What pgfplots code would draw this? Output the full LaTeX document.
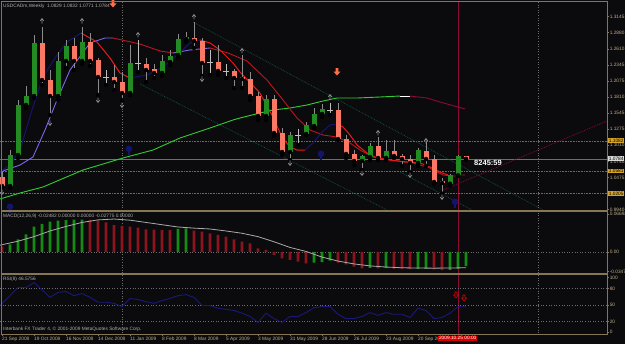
\documentclass[border=0pt]{standalone}
\usepackage{pgfplots}
\pgfplotsset{compat=1.18}
\usepackage{pgfplotstable}
\usepackage{fontspec}
\setmainfont{Liberation Sans}
\definecolor{bg}{RGB}{11,11,13}
\definecolor{frm}{RGB}{135,118,85}
\definecolor{lbl}{RGB}{190,175,140}
\definecolor{wick}{RGB}{140,140,140}
\definecolor{bull}{RGB}{34,139,34}
\definecolor{bear}{RGB}{250,120,100}
\definecolor{dojic}{RGB}{190,190,190}
\definecolor{navyl}{RGB}{20,20,110}
\definecolor{redl}{RGB}{235,25,25}
\definecolor{lav}{RGB}{123,104,238}
\definecolor{dred}{RGB}{190,20,30}
\definecolor{limel}{RGB}{50,205,50}
\definecolor{tealc}{RGB}{20,85,75}
\definecolor{orng}{RGB}{150,95,35}
\definecolor{curr}{RGB}{110,110,110}
\definecolor{maroonl}{RGB}{140,10,50}
\definecolor{arrowc}{RGB}{255,110,70}
\definecolor{mgreen}{RGB}{20,140,20}
\definecolor{mred}{RGB}{140,20,30}
\definecolor{sig}{RGB}{170,170,170}
\definecolor{rsic}{RGB}{25,25,125}
\definecolor{gold}{RGB}{215,165,40}
\definecolor{txt}{RGB}{175,175,175}
\newcommand\tf{\fontsize{4.8}{5.2}\selectfont}

\pgfdeclareplotmark{fracup}{%
 \pgfpathmoveto{\pgfqpoint{-2pt}{0pt}}\pgfpathlineto{\pgfqpoint{0pt}{2.5pt}}\pgfpathlineto{\pgfqpoint{2pt}{0pt}}%
 \pgfpathmoveto{\pgfqpoint{0pt}{2.5pt}}\pgfpathlineto{\pgfqpoint{0pt}{-2.5pt}}\pgfusepathqstroke}
\pgfdeclareplotmark{fracdn}{%
 \pgfpathmoveto{\pgfqpoint{-2pt}{0pt}}\pgfpathlineto{\pgfqpoint{0pt}{-2.5pt}}\pgfpathlineto{\pgfqpoint{2pt}{0pt}}%
 \pgfpathmoveto{\pgfqpoint{0pt}{-2.5pt}}\pgfpathlineto{\pgfqpoint{0pt}{2.5pt}}\pgfusepathqstroke}
\pgfdeclareplotmark{blockdn}{%
 \pgfpathmoveto{\pgfqpoint{-1.3pt}{3.8pt}}\pgfpathlineto{\pgfqpoint{1.3pt}{3.8pt}}\pgfpathlineto{\pgfqpoint{1.3pt}{0.5pt}}%
 \pgfpathlineto{\pgfqpoint{3.5pt}{0.5pt}}\pgfpathlineto{\pgfqpoint{0pt}{-3.5pt}}\pgfpathlineto{\pgfqpoint{-3.5pt}{0.5pt}}%
 \pgfpathlineto{\pgfqpoint{-1.3pt}{0.5pt}}\pgfpathclose\pgfusepathqfill}
\pgfdeclareplotmark{odown}{%
 \pgfpathmoveto{\pgfqpoint{-1pt}{3pt}}\pgfpathlineto{\pgfqpoint{1pt}{3pt}}\pgfpathlineto{\pgfqpoint{1pt}{0pt}}%
 \pgfpathlineto{\pgfqpoint{2.5pt}{0pt}}\pgfpathlineto{\pgfqpoint{0pt}{-3pt}}\pgfpathlineto{\pgfqpoint{-2.5pt}{0pt}}%
 \pgfpathlineto{\pgfqpoint{-1pt}{0pt}}\pgfpathclose\pgfusepathqstroke}
\pgfdeclareplotmark{blob}{%
 \pgfpathcircle{\pgfqpoint{0pt}{1.2pt}}{3.3pt}\pgfusepathqfill
 \pgfpathrectangle{\pgfqpoint{-0.8pt}{-4.5pt}}{\pgfqpoint{1.6pt}{4.5pt}}\pgfusepathqfill}

\pgfplotstableread{
x o h l c
1 1.0333 1.0930 1.0299 1.0847
2 1.0847 1.1761 1.0798 1.1678
3 1.1678 1.1994 1.1628 1.1827
4 1.1827 1.2841 1.1794 1.2708
7 1.1827 1.2558 1.1761 1.2409
8 1.2409 1.2758 1.2293 1.2658
10 1.2409 1.2974 1.2359 1.2724
16 1.1877 1.2675 1.1844 1.2376
20 1.2209 1.2508 1.2160 1.2409
21 1.2392 1.2592 1.2342 1.2492
22 1.2508 1.2857 1.2459 1.2774
23 1.2774 1.2890 1.2724 1.2807
33 1.1495 1.1844 1.1429 1.1778
36 1.0897 1.1229 1.0764 1.1180
38 1.1196 1.1396 1.1180 1.1346
39 1.1329 1.1628 1.1296 1.1528
40 1.1528 1.1695 1.1479 1.1612
45 1.0748 1.0847 1.0598 1.0831
46 1.0814 1.1047 1.0764 1.0997
48 1.0798 1.1097 1.0764 1.0914
52 1.0715 1.0964 1.0665 1.0930
56 1.0370 1.0532 1.0333 1.0510
57 1.0510 1.0847 1.0499 1.0831
}\bull
\pgfplotstableread{
x o h l c
0 1.0482 1.0565 1.0299 1.0333
5 1.2708 1.2974 1.2010 1.2093
6 1.2093 1.2259 1.1512 1.1827
9 1.2658 1.2791 1.2259 1.2409
11 1.2724 1.2874 1.2326 1.2409
12 1.2425 1.2459 1.1844 1.2143
14 1.2143 1.2342 1.1927 1.2060
15 1.2060 1.2226 1.1761 1.1877
18 1.2359 1.2459 1.2060 1.2259
19 1.2276 1.2359 1.2126 1.2209
24 1.2791 1.3057 1.2625 1.2741
25 1.2741 1.2791 1.2160 1.2376
27 1.2392 1.2675 1.2176 1.2243
29 1.2243 1.2276 1.1960 1.2126
30 1.2143 1.2508 1.1960 1.2110
31 1.2110 1.2226 1.1761 1.1827
32 1.1827 1.1894 1.1429 1.1495
34 1.1778 1.1844 1.1163 1.1213
35 1.1213 1.1296 1.0847 1.0897
42 1.1595 1.1711 1.1097 1.1113
43 1.1113 1.1180 1.0798 1.0864
44 1.0864 1.0930 1.0681 1.0748
47 1.0997 1.1146 1.0764 1.0798
49 1.0914 1.1097 1.0798 1.0831
50 1.0831 1.0864 1.0665 1.0781
51 1.0781 1.0847 1.0565 1.0715
53 1.0914 1.1060 1.0665 1.0781
54 1.0781 1.0847 1.0366 1.0399
55 1.0415 1.0465 1.0205 1.0382
58 1.0829 1.0832 1.0771 1.0784
}\bear
\pgfplotstableread{
x o h l c
13 1.2143 1.2259 1.2010 1.2135
17 1.2376 1.2758 1.2226 1.2367
26 1.2392 1.2592 1.2176 1.2384
28 1.2243 1.2359 1.2126 1.2234
37 1.1180 1.1279 1.1014 1.1172
41 1.1595 1.1711 1.1512 1.1587
}\doji

\pgfplotsset{
 mtaxis/.style={scale only axis, width=607pt, xmin=-0.25, xmax=75.625,
  axis line style={draw=none}, tick style={draw=frm, line width=0.5pt}, tick align=outside,
  major tick length=2pt, ytick pos=right, yticklabel pos=right, xtick=\empty,
  scaled y ticks=false, scaled x ticks=false,
  yticklabel style={font=\tf, text=lbl, anchor=west, inner sep=0.6pt},
  clip=true},
 wickst/.style={only marks, mark=none, error bars/.cd, y dir=plus, y explicit, error mark=none,
  error bar style={line width=0.8pt, draw=#1}},
 bodyst/.style={only marks, mark=none, error bars/.cd, y dir=plus, y explicit, error mark=none,
  error bar style={line width=5pt, draw=#1}},
}

\begin{document}
\begin{tikzpicture}
\fill[bg] (0pt,0pt) rectangle (625pt,-344pt);
\useasboundingbox (0pt,0pt) rectangle (625pt,-344pt);
% period separators and vertical line
\draw[curr, dotted, line width=0.6pt] (122pt,-2pt) -- (122pt,-334pt);
\draw[curr, dotted, line width=0.6pt] (538pt,-2pt) -- (538pt,-334pt);
\draw[maroonl, line width=0.8pt] (458pt,-2pt) -- (458pt,-334pt);

% ================= MAIN PRICE PANEL =================
\begin{axis}[mtaxis, at={(0pt,-2pt)}, anchor=north west, height=208pt,
  ymin=0.9934, ymax=1.3389,
  ytick={1.3145,1.2880,1.2610,1.2345,1.2075,1.1810,1.1545,1.1275,1.1010,1.0740,1.0475,1.0205,0.9940},
  yticklabels={1.3145,1.2880,1.2610,1.2345,1.2075,1.1810,1.1545,1.1275,1.1010,1.0740,1.0475,1.0205,0.9940}]
% horizontal levels
\addplot[orng, densely dotted, line width=0.6pt] coordinates {(-0.25,1.1082) (75.625,1.1082)};
\addplot[orng, densely dotted, line width=0.6pt] coordinates {(-0.25,1.0581) (75.625,1.0581)};
\addplot[orng, densely dotted, line width=0.6pt] coordinates {(-0.25,1.0205) (75.625,1.0205)};
\addplot[curr, line width=0.6pt] coordinates {(-0.25,1.0784) (75.625,1.0784)};
% channel lines
\addplot[tealc, densely dotted, line width=0.7pt] coordinates {(23.875,1.3057) (67.625,0.9934)};
\addplot[tealc, densely dotted, line width=0.7pt] coordinates {(17.25,1.2027) (48.125,0.9934)};
\addplot[tealc, densely dotted, line width=0.7pt] coordinates {(49.75,1.0565) (58.75,0.9934)};
% trend line
\addplot[maroonl, densely dotted, line width=0.8pt] coordinates {(55.125,1.0266) (75.625,1.1412)};
% slow green MA
\addplot[limel, line width=0.9pt] coordinates {(-0.25,1.0117) (2.25,1.0216) (5.125,1.0316) (10.125,1.0598) (15.125,1.0798) (18.875,1.0930) (22.25,1.1130) (26,1.1296) (28.875,1.1429) (29.75,1.1462) (32.25,1.1545) (33.875,1.1595) (36,1.1628) (38.125,1.1678) (40.125,1.1744) (41.875,1.1794) (44.375,1.1794) (47.25,1.1811) (49.75,1.1827)};
\addplot[white, line width=0.9pt] coordinates {(49.75,1.1827) (51,1.1827)};
\addplot[maroonl, line width=0.9pt] coordinates {(51,1.1827) (53.125,1.1794) (54.75,1.1728) (57.875,1.1612)};
% second MA
\addplot[lav, line width=0.9pt] coordinates {(-0.25,1.0565) (2.25,1.0681) (3.875,1.0814) (5.375,1.1263) (6.875,1.1761) (8.5,1.2259) (11,1.2708) (12.875,1.2791) (13.875,1.2791)};
\addplot[dred, line width=0.9pt] coordinates {(13.875,1.2791) (17.25,1.2691) (19.75,1.2575) (21.375,1.2542)};
\addplot[lav, line width=0.9pt] coordinates {(21.375,1.2542) (23.5,1.2592) (26,1.2625)};
\addplot[dred, line width=0.9pt] coordinates {(26,1.2625) (28.25,1.2542) (30.625,1.2409) (33.125,1.2093) (35.125,1.1761) (36.875,1.1462) (38.5,1.1263) (40.125,1.1180) (41.875,1.1146) (43.5,1.1047) (44.75,1.0930) (46.375,1.0814) (48.5,1.0764) (51.375,1.0715) (53.5,1.0631) (55.125,1.0515) (56.375,1.0499) (57.875,1.0515)};
% fast MA
\addplot[navyl, line width=1pt] coordinates {(-0.25,1.0565) (1,1.0681) (2.25,1.0930) (3.75,1.1595) (5.125,1.2143) (6.875,1.2508) (8.125,1.2724) (9.875,1.2874)};
\addplot[redl, line width=1pt] coordinates {(9.875,1.2874) (11.875,1.2724) (13.5,1.2459) (14.75,1.2209) (16,1.2126)};
\addplot[navyl, line width=1pt] coordinates {(16,1.2126) (18.125,1.2176) (20.125,1.2309) (21.875,1.2508) (23.5,1.2708) (24.75,1.2758)};
\addplot[redl, line width=1pt] coordinates {(24.75,1.2758) (26,1.2708) (27.25,1.2592) (28.875,1.2376) (29.75,1.2226) (32.25,1.1877) (33.875,1.1479) (35,1.1146) (36,1.0980) (36.875,1.0930) (37.875,1.0930)};
\addplot[navyl, line width=1pt] coordinates {(37.875,1.0930) (38.875,1.1047) (40,1.1230) (41,1.1346) (41.875,1.1362)};
\addplot[redl, line width=1pt] coordinates {(41.875,1.1362) (42.625,1.1313) (43.5,1.1180) (44.375,1.1014) (45.625,1.0881) (46.875,1.0798) (48.5,1.0764) (50.625,1.0731) (52.25,1.0715) (53.5,1.0648) (54.75,1.0565) (55.75,1.0515)};
\addplot[navyl, line width=1pt] coordinates {(55.75,1.0515) (57.875,1.0515)};
% candles
\addplot[wickst=wick] table[x=x, y=l, y error expr=\thisrow{h}-\thisrow{l}] {\bull};
\addplot[wickst=wick] table[x=x, y=l, y error expr=\thisrow{h}-\thisrow{l}] {\bear};
\addplot[wickst=dojic] table[x=x, y=l, y error expr=\thisrow{h}-\thisrow{l}] {\doji};
\addplot[bodyst=bull] table[x=x, y=o, y error expr=\thisrow{c}-\thisrow{o}] {\bull};
\addplot[bodyst=bear] table[x=x, y=c, y error expr=\thisrow{o}-\thisrow{c}] {\bear};
\addplot[only marks, mark=-, mark size=3pt, mark options={draw=dojic, line width=0.8pt}] table[x=x, y=o] {\doji};
% fractals
\addplot[only marks, mark=fracup, mark options={draw=wick, line width=0.6pt}] coordinates {(5,1.3073) (10,1.3073) (17,1.2841) (24,1.3140) (30,1.2575) (41,1.1811) (47,1.1213) (53,1.1080)};
\addplot[only marks, mark=fracdn, mark options={draw=wick, line width=0.6pt}] coordinates {(0,1.0233) (6,1.1379) (12,1.1761) (15,1.1678) (25,1.2110) (36,1.0715) (45,1.0548) (51,1.0515) (55,1.0150)};
% signal arrows
\addplot[only marks, mark=blob, mark options={fill=navyl, draw=none}] coordinates {(15.875,1.0930) (39.875,1.0847) (56.625,1.0050) (1,0.9967)};
\addplot[only marks, mark=blockdn, mark options={fill=arrowc, draw=none}] coordinates {(13.875,1.3356) (41.875,1.2226) (24.875,1.3410)};
\node[text=white, font=\fontsize{7.5}{8}\selectfont\bfseries] at (axis cs:60.75,1.0715) {8245:59};
\coordinate (b1082) at (axis cs:75.625,1.1082);
\coordinate (b0784) at (axis cs:75.625,1.0784);
\coordinate (b0581) at (axis cs:75.625,1.0581);
\coordinate (b0205) at (axis cs:75.625,1.0205);
\end{axis}

% ================= MACD PANEL =================
\begin{axis}[mtaxis, at={(0pt,-212pt)}, anchor=north west, height=61pt,
  ymin=-0.0370, ymax=0.0704,
  ytick={0.06692,0,-0.03477}, yticklabels={0.06692,0.00,-0.03477}]
\addplot[curr, dotted, line width=0.6pt] coordinates {(-0.25,0) (75.625,0)};
\addplot[ybar, bar width=2.6pt, bar shift=0pt, fill=mgreen, draw=none] coordinates {
(1,0.0135) (2,0.0223) (3,0.0311) (4,0.0446) (5,0.0493) (6,0.0534) (7,0.0552) (8,0.0563) (9,0.0568) (10,0.0570)
(22,0.0405) (23,0.0417) (39,-0.0188) (40,-0.0178) (41,-0.0153) (46,-0.0282) (48,-0.0285) (52,-0.0297) (53,-0.0290)
(56,-0.0315) (57,-0.0295) (58,-0.0248)};
\addplot[ybar, bar width=2.6pt, bar shift=0pt, fill=mred, draw=none] coordinates {
(0,0.0093) (11,0.0566) (12,0.0552) (13,0.0522) (14,0.0475) (15,0.0458) (16,0.0446) (17,0.0428) (18,0.0399) (19,0.0395)
(20,0.0387) (21,0.0385) (24,0.0375) (25,0.0358) (26,0.0329) (27,0.0299) (28,0.0270) (29,0.0223) (30,0.0182) (31,0.0153)
(32,0.0065) (33,0.0035) (34,-0.0053) (35,-0.0111) (36,-0.0141) (37,-0.0170) (38,-0.0199) (42,-0.0188) (43,-0.0217)
(44,-0.0258) (45,-0.0287) (47,-0.0290) (49,-0.0292) (50,-0.0297) (51,-0.0302) (54,-0.0305) (55,-0.0320)};
\addplot[sig, line width=0.8pt] coordinates {(-0.25,0.0120) (2,0.019) (4,0.027) (6,0.037) (8,0.045) (10,0.052) (12,0.0565) (14,0.058) (16,0.056) (18,0.052) (20,0.048) (22,0.044) (24,0.042) (26,0.0405) (28,0.037) (30,0.033) (32,0.027) (34,0.018) (36,0.008) (38,0.001) (40,-0.009) (42,-0.016) (44,-0.021) (46,-0.0245) (48,-0.0265) (50,-0.0278) (52,-0.0283) (54,-0.0285) (56,-0.0282) (58,-0.0278)};
\end{axis}

% ================= RSI PANEL =================
\begin{axis}[mtaxis, at={(0pt,-275pt)}, anchor=north west, height=59pt,
  ymin=-3.1, ymax=104.9,
  ytick={100,80,50,20,0}, yticklabels={100,80,50,20,0},
  xtick={0,4,...,52}, xtick pos=bottom,
  xticklabels={21 Sep 2008,19 Oct 2008,16 Nov 2008,14 Dec 2008,11 Jan 2009,8 Feb 2009,8 Mar 2009,5 Apr 2009,3 May 2009,31 May 2009,28 Jun 2009,26 Jul 2009,23 Aug 2009,20 Sep 2009},
  xticklabel style={font=\tf, text=lbl, anchor=north west, inner sep=0.5pt, xshift=-0.5pt}]
\addplot[curr, dotted, line width=0.6pt] coordinates {(-0.25,80) (75.625,80)};
\addplot[curr, dotted, line width=0.6pt] coordinates {(-0.25,50) (75.625,50)};
\addplot[curr, dotted, line width=0.6pt] coordinates {(-0.25,20) (75.625,20)};
\addplot[rsic, line width=0.9pt] coordinates {(-0.25,49) (1,67) (2,82) (3,82) (4,91) (5,78) (6,64) (7,73) (8,75) (9,67) (10,71) (11,64) (12,55) (13,55) (14,53) (15,47) (16,62) (17,60) (18,56) (19,53) (20,58) (21,62) (22,67) (23,69) (24,64) (25,49) (26,49) (27,44) (28,42) (29,40) (30,35) (31,29) (32,18) (33,35) (34,25) (35,18) (36,29) (37,29) (38,36) (39,45) (40,47) (41,47) (42,33) (43,25) (44,25) (45,29) (46,36) (47,31) (48,36) (49,33) (50,33) (51,27) (52,44) (53,40) (54,25) (55,27) (56,35) (57,47) (58,46.58)};
\addplot[only marks, mark=odown, mark options={draw=red!85!black, line width=0.6pt}] coordinates {(56.75,68.3) (57.75,62.8)};
\end{axis}

% frame
\draw[frm, line width=0.8pt] (1pt,-1.5pt) -- (607pt,-1.5pt) -- (607pt,-334.5pt) -- (1pt,-334.5pt) -- cycle;
\draw[frm, line width=2pt] (1pt,-211pt) -- (607pt,-211pt);
\draw[frm, line width=2pt] (1pt,-274pt) -- (607pt,-274pt);
% highlighted price labels
\node[anchor=west, fill=gold, text=black, font=\tf, inner sep=0.7pt] at ([xshift=1pt]b1082) {1.1082};
\node[anchor=west, fill=gold, text=black, font=\tf, inner sep=0.7pt] at ([xshift=1pt]b0581) {1.0581};
\node[anchor=west, fill=gold, text=black, font=\tf, inner sep=0.7pt] at ([xshift=1pt]b0205) {1.0205};
\node[anchor=west, fill=black!15, text=black, font=\tf, inner sep=0.7pt] at ([xshift=1pt]b0784) {1.0784};
% texts
\node[anchor=west, text=txt, font=\tf, inner sep=0pt] at (3pt,-6.5pt) {USDCADm,Weekly\ \ 1.0829 1.0832 1.0771 1.0784};
\node[anchor=west, text=txt, font=\tf, inner sep=0pt] at (3pt,-216pt) {MACD(12,26,9) -0.02482 0.00000 0.00000 -0.02775 0.00000};
\node[anchor=west, text=txt, font=\tf, inner sep=0pt] at (3pt,-279pt) {RSI(8) 46.5756};
\node[anchor=west, text=txt, font=\tf, inner sep=0pt] at (3pt,-329.5pt) {Interbank FX Trader 4, © 2001-2009 MetaQuotes Software Corp.};
\node[anchor=north west, fill=red!85!black, text=white, font=\tf, inner sep=0.8pt] at (438pt,-335.5pt) {2009.10.25 00:00};
\end{tikzpicture}
\end{document}
